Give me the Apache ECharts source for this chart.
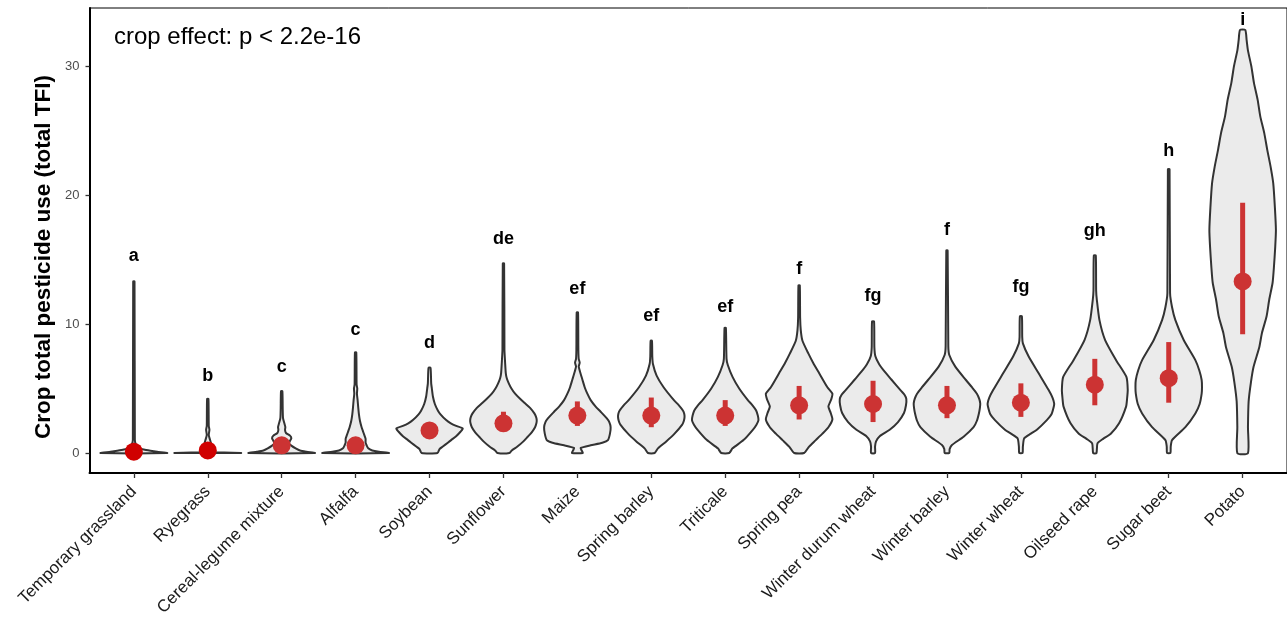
<!DOCTYPE html>
<html>
<head>
<meta charset="utf-8">
<title>Crop total pesticide use</title>
<script src="https://cdn.jsdelivr.net/npm/echarts@6/dist/echarts.min.js"></script>
<style>
  html, body { margin: 0; padding: 0; background: #fff; }
  #chart { width: 1287px; height: 619px; }
</style>
</head>
<body>
<div id="chart"></div>
<script>
const crops = ['Temporary grassland', 'Ryegrass', 'Cereal-legume mixture', 'Alfalfa', 'Soybean',
  'Sunflower', 'Maize', 'Spring barley', 'Triticale', 'Spring pea', 'Winter durum wheat',
  'Winter barley', 'Winter wheat', 'Oilseed rape', 'Sugar beet', 'Potato']
const letters = ['a', 'b', 'c', 'c', 'd', 'de', 'ef', 'ef', 'ef', 'f', 'fg', 'f', 'fg', 'gh', 'h', 'i']
const letterY = [15.3, 6.0, 6.7, 9.5, 8.5, 16.6, 12.7, 10.6, 11.3, 14.3, 12.2, 17.3, 12.9, 17.2, 23.4, 33.6]
const means = [0.1, 0.2, 0.6, 0.6, 1.75, 2.3, 2.9, 2.9, 2.9, 3.7, 3.8, 3.7, 3.9, 5.3, 5.8, 13.3]
const lower = [0.05, 0.1, 0.45, 0.45, 1.5, 1.9, 2.1, 2.0, 2.1, 2.6, 2.4, 2.7, 2.8, 3.7, 3.9, 9.2]
const upper = [0.15, 0.35, 0.8, 0.8, 2.0, 3.2, 4.0, 4.3, 4.1, 5.2, 5.6, 5.2, 5.4, 7.3, 8.6, 19.4]
const yTicks = [0, 10, 20, 30]

// violin profiles: [TFI value, relative density width (max = 1)]
const tempGrassland = [[0, 1.0], [0.1, 0.7], [0.18, 0.5], [0.27, 0.3], [0.36, 0.17], [0.6, 0.07], [1.0, 0.03], [13.3, 0.02]]
const ryegrass = [[0, 1.0], [0.03, 0.5], [0.08, 0.1], [0.3, 0.06], [0.7, 0.1], [1.0, 0.07], [1.4, 0.03], [1.8, 0.05], [2.1, 0.03], [4.2, 0.02]]
const cerealLegume = [[0, 1.0], [0.1, 0.75], [0.2, 0.55], [0.36, 0.42], [0.55, 0.3], [0.75, 0.22], [0.95, 0.25], [1.15, 0.29], [1.35, 0.25], [1.55, 0.13], [1.8, 0.1], [2.0, 0.11], [2.3, 0.08], [2.7, 0.04], [3.5, 0.03], [4.8, 0.02]]
const alfalfa = [[0, 1.0], [0.1, 0.7], [0.2, 0.5], [0.36, 0.38], [0.6, 0.33], [0.8, 0.3], [1.1, 0.3], [1.4, 0.26], [1.7, 0.22], [2.0, 0.18], [2.5, 0.13], [3.0, 0.1], [3.5, 0.08], [4.1, 0.06], [4.6, 0.04], [5.0, 0.05], [5.3, 0.03], [7.8, 0.02]]
const soybean = [[0, 0.24], [0.3, 0.3], [0.5, 0.4], [0.8, 0.55], [1.0, 0.65], [1.3, 0.8], [1.65, 0.93], [1.9, 1.0], [2.1, 0.8], [2.3, 0.64], [2.55, 0.5], [3.0, 0.33], [3.3, 0.25], [3.8, 0.16], [4.4, 0.1], [5.0, 0.07], [5.4, 0.05], [6.6, 0.03]]
const sunflower = [[0, 0.18], [0.2, 0.25], [0.5, 0.42], [0.9, 0.6], [1.26, 0.73], [1.6, 0.85], [2.0, 0.95], [2.3, 0.99], [2.55, 1.0], [2.8, 0.98], [3.07, 0.93], [3.5, 0.8], [3.85, 0.65], [4.2, 0.5], [4.6, 0.35], [5.0, 0.24], [5.4, 0.16], [5.8, 0.1], [6.2, 0.07], [7.0, 0.05], [8.0, 0.03], [14.7, 0.02]]
const maize = [[0, 0.16], [0.25, 0.12], [0.4, 0.1], [0.6, 0.4], [0.8, 0.75], [1.0, 0.92], [1.5, 0.98], [2.0, 1.0], [2.4, 0.96], [2.7, 0.88], [3.2, 0.7], [3.6, 0.55], [4.1, 0.4], [4.6, 0.3], [5.1, 0.22], [5.7, 0.15], [6.3, 0.08], [6.7, 0.04], [7.0, 0.07], [7.3, 0.04], [8.0, 0.03], [10.9, 0.02]]
const springBarley = [[0, 0.1], [0.36, 0.2], [0.9, 0.45], [1.5, 0.7], [2.2, 0.93], [2.5, 0.98], [2.8, 1.0], [3.05, 0.99], [3.3, 0.95], [3.7, 0.83], [4.1, 0.68], [5.1, 0.37], [6.0, 0.16], [6.9, 0.05], [7.5, 0.03], [8.7, 0.02]]
const triticale = [[0, 0.12], [0.36, 0.22], [1.0, 0.55], [1.8, 0.83], [2.2, 0.94], [2.55, 1.0], [2.9, 0.98], [3.3, 0.93], [3.7, 0.82], [4.1, 0.68], [5.0, 0.42], [5.9, 0.22], [6.8, 0.08], [7.3, 0.04], [9.7, 0.02]]
const springPea = [[0, 0.15], [0.5, 0.3], [1.0, 0.5], [1.5, 0.7], [2.0, 0.88], [2.6, 1.0], [3.1, 0.95], [3.6, 0.88], [4.2, 0.97], [4.6, 1.0], [5.1, 0.85], [6.2, 0.6], [7.0, 0.42], [7.7, 0.28], [8.7, 0.1], [9.5, 0.05], [10.5, 0.03], [13.0, 0.02]]
const durumWheat = [[0, 0.06], [0.5, 0.06], [0.9, 0.09], [1.3, 0.2], [1.8, 0.5], [2.4, 0.75], [3.1, 0.93], [3.7, 0.99], [4.2, 1.0], [4.5, 0.95], [4.8, 0.85], [5.7, 0.55], [6.3, 0.35], [6.9, 0.18], [7.5, 0.07], [8.2, 0.04], [10.2, 0.03]]
const winterBarley = [[0, 0.07], [0.3, 0.08], [0.62, 0.15], [1.26, 0.5], [2.0, 0.8], [2.5, 0.9], [3.07, 0.96], [3.5, 0.99], [3.85, 1.0], [4.2, 0.97], [4.6, 0.9], [5.1, 0.75], [5.66, 0.57], [6.7, 0.25], [7.6, 0.07], [8.3, 0.04], [15.7, 0.02]]
const winterWheat = [[0, 0.05], [0.5, 0.06], [1.14, 0.1], [1.5, 0.3], [1.8, 0.48], [2.55, 0.78], [3.0, 0.92], [3.6, 0.99], [3.85, 1.0], [4.3, 0.95], [4.9, 0.83], [6.2, 0.53], [7.5, 0.23], [8.5, 0.06], [9.0, 0.04], [10.6, 0.03]]
const oilseedRape = [[0, 0.05], [0.75, 0.08], [1.1, 0.25], [1.5, 0.48], [2.3, 0.73], [3.6, 0.94], [4.2, 0.97], [4.9, 0.99], [5.9, 0.95], [7.2, 0.64], [8.76, 0.31], [10.3, 0.14], [11.9, 0.06], [12.6, 0.04], [15.3, 0.03]]
const sugarBeet = [[0, 0.05], [0.5, 0.06], [1.0, 0.1], [2.0, 0.5], [3.07, 0.8], [3.8, 0.93], [4.6, 0.99], [5.1, 1.0], [5.66, 0.99], [6.4, 0.92], [7.2, 0.8], [8.76, 0.45], [10.3, 0.2], [11.3, 0.1], [12.4, 0.04], [22.0, 0.025]]
const potato = [[0, 0.16], [2, 0.16], [4, 0.18], [5.5, 0.25], [6.7, 0.33], [8.2, 0.5], [9.3, 0.58], [10.6, 0.72], [11.9, 0.8], [13.2, 0.9], [14.4, 0.94], [16, 0.98], [17.3, 1.0], [19.0, 0.97], [20.9, 0.92], [22.2, 0.84], [23.5, 0.74], [24.8, 0.65], [26.1, 0.53], [27.4, 0.45], [28.7, 0.34], [30.0, 0.26], [31.2, 0.16], [32.0, 0.12], [32.8, 0.08]]

const profiles = [tempGrassland, ryegrass, cerealLegume, alfalfa, soybean, sunflower, maize,
  springBarley, triticale, springPea, durumWheat, winterBarley, winterWheat, oilseedRape, sugarBeet, potato]

const FONT = '"Liberation Sans", Arial, Helvetica, sans-serif'
const HALF = 0.45 // half of violin width, in category units
const tickPos = crops.map((c, i) => i)

const renderViolin = (params, api) => {
  const i = api.value(0)
  const prof = profiles[i]
  const right = prof.map(p => api.coord([i + p[1] * HALF, p[0]]))
  const left = prof.slice().reverse().map(p => api.coord([i - p[1] * HALF, p[0]]))
  return {
    type: 'polygon',
    shape: { points: right.concat(left), smooth: 0.2 },
    style: { fill: '#ebebeb', stroke: '#333333', lineWidth: 2, lineJoin: 'round' }
  }
}

const renderBar = (params, api) => {
  const lo = api.coord([api.value(0), api.value(1)])
  const hi = api.coord([api.value(0), api.value(2)])
  return {
    type: 'line',
    shape: { x1: lo[0], y1: lo[1], x2: hi[0], y2: hi[1] },
    style: { stroke: '#cc3333', lineWidth: 5 }
  }
}

const renderLetter = (params, api) => {
  const pt = api.coord([api.value(0), api.value(1)])
  return {
    type: 'text',
    x: pt[0],
    y: pt[1],
    style: {
      text: letters[params.dataIndex],
      font: 'bold 18px ' + FONT,
      fill: '#000',
      textAlign: 'center',
      textVerticalAlign: 'middle'
    }
  }
}

const chart = echarts.init(document.getElementById('chart'))
chart.setOption({
  animation: false,
  textStyle: { fontFamily: FONT },
  grid: {
    left: 89.5, top: 8, width: 1200, bottom: 146,
    show: true, borderColor: '#000', borderWidth: 1
  },
  xAxis: {
    type: 'value',
    min: -0.6,
    max: 15.6,
    splitLine: { show: false },
    axisLine: { onZero: false, lineStyle: { color: '#000', width: 2 } },
    axisTick: { customValues: tickPos, length: 5, lineStyle: { color: '#333', width: 1.3 } },
    axisLabel: {
      customValues: tickPos,
      rotate: 45,
      margin: 16,
      fontSize: 17,
      color: '#1a1a1a',
      formatter: v => crops[v]
    }
  },
  yAxis: {
    type: 'value',
    min: -1.55,
    max: 34.5,
    splitLine: { show: false },
    axisLine: { onZero: false, lineStyle: { color: '#000', width: 2 } },
    axisTick: { customValues: yTicks, length: 4, lineStyle: { color: '#333', width: 1.3 } },
    axisLabel: { customValues: yTicks, fontSize: 13, color: '#4d4d4d', margin: 10 }
  },
  graphic: [
    {
      type: 'text', x: 114, y: 37,
      style: {
        text: 'crop effect: p < 2.2e-16', font: '24px ' + FONT, fill: '#000',
        textAlign: 'left', textVerticalAlign: 'middle'
      }
    },
    {
      type: 'text', x: 44, y: 257, rotation: Math.PI / 2,
      style: {
        text: 'Crop total pesticide use (total TFI)', font: 'bold 22.5px ' + FONT,
        fill: '#000', textAlign: 'center', textVerticalAlign: 'middle'
      }
    }
  ],
  series: [
    {
      type: 'custom',
      renderItem: renderViolin,
      data: crops.map((c, i) => [i]),
      z: 1
    },
    {
      type: 'custom',
      renderItem: renderBar,
      data: crops.map((c, i) => [i, lower[i], upper[i]]),
      z: 2
    },
    {
      type: 'scatter',
      data: means.map((m, i) => [i, m]),
      symbolSize: 18,
      itemStyle: { color: p => (p.dataIndex < 2 ? '#d00000' : '#cc3333'), opacity: 1 },
      z: 3
    },
    {
      type: 'custom',
      renderItem: renderLetter,
      data: letterY.map((y, i) => [i, y]),
      clip: false,
      z: 4
    }
  ]
})
</script>
</body>
</html>
